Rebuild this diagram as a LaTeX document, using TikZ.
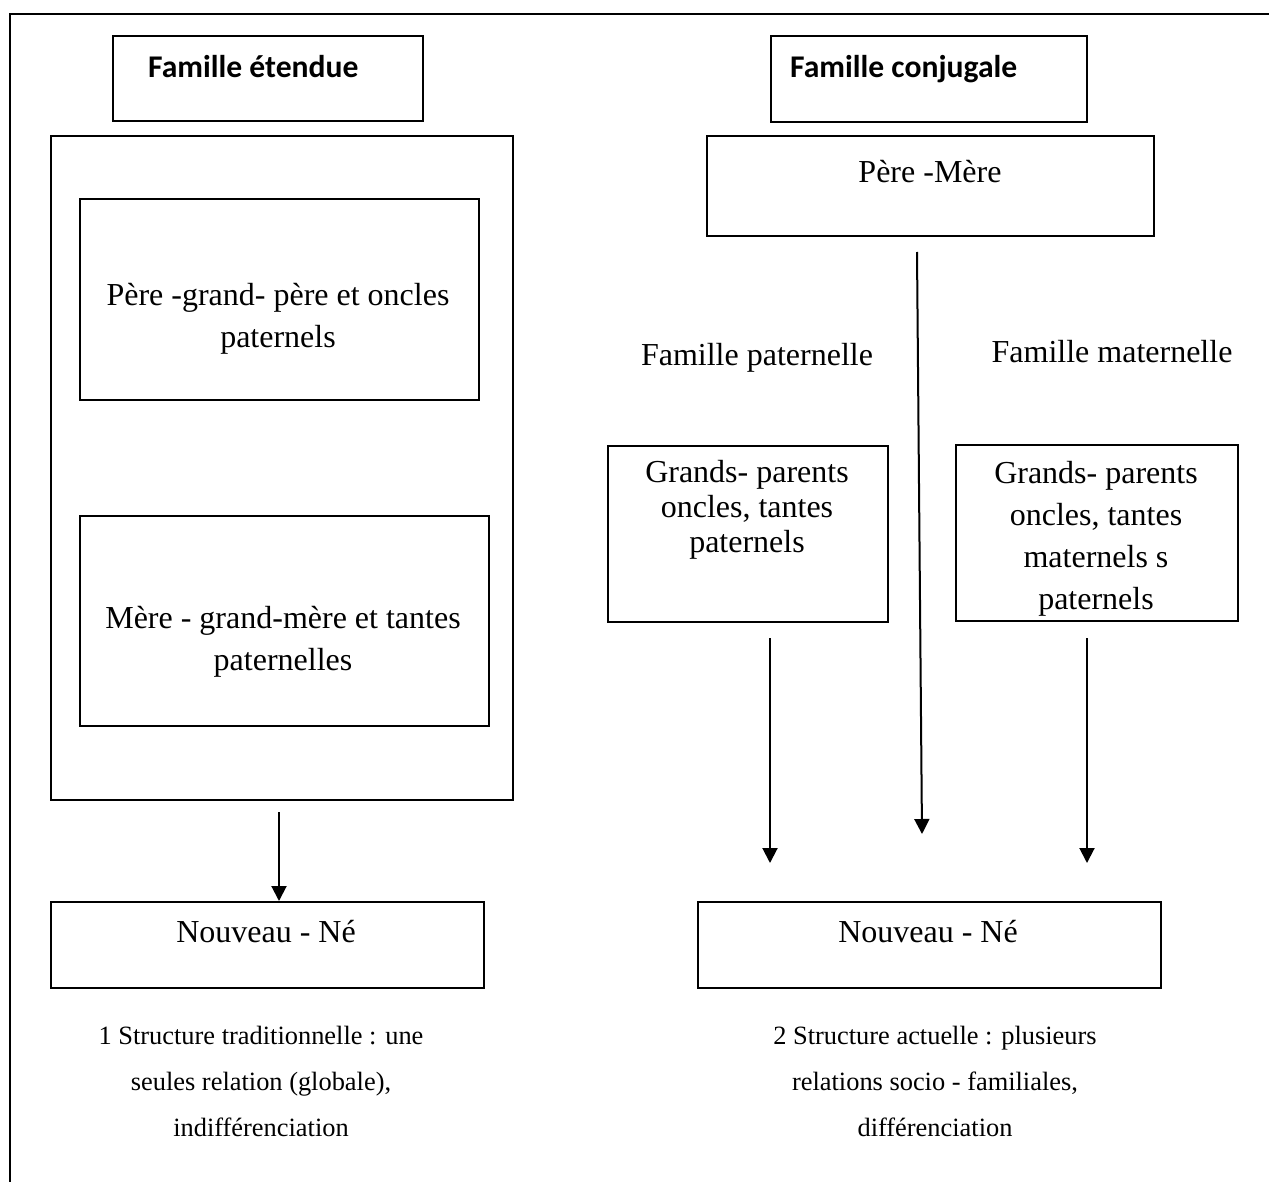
\documentclass[tikz,border=0pt]{standalone}
\usepackage{fontspec}
\setmainfont{Liberation Serif}
\newfontfamily\calibrifont{Carlito}
\usetikzlibrary{arrows.meta}
\tikzset{
  box/.style={draw, line width=2pt, rectangle, inner sep=0pt, anchor=north west},
  main/.style={font=\fontsize{32}{42}\selectfont, align=center, anchor=base, inner sep=0pt},
  tight/.style={font=\fontsize{32}{35}\selectfont, align=center, anchor=base, inner sep=0pt},
  head/.style={font=\calibrifont\bfseries\fontsize{31.6}{38}\selectfont, anchor=base west, inner sep=0pt},
  capt/.style={font=\fontsize{26.4}{46}\selectfont, align=center, anchor=base, inner sep=0pt},
  arr/.style={line width=2pt, -{Triangle[width=15pt,length=15pt]}}
}
\begin{document}
\begin{tikzpicture}[x=1pt,y=-1pt]
\useasboundingbox (0,0) rectangle (1269,1182);
% outer frame (right and bottom sides fall outside the picture)
\draw[line width=2.5pt] (10,1182) -- (10,14) -- (1269,14);

% left column
\node[box, minimum width=310pt, minimum height=85pt] (hetendue) at (112,35) {};
\node[head] (tetendue) at (148,78) {Famille étendue};
\node[box, minimum width=462pt, minimum height=664pt] (cont) at (50,135) {};
\node[box, minimum width=399pt, minimum height=201pt] (pere) at (79,198) {};
\node[main] (tpere) at (278,348) {Père -grand- père et oncles\\paternels};
\node[box, minimum width=409pt, minimum height=210pt] (mere) at (79,515) {};
\node[main] (tmere) at (283,670) {Mère - grand-mère et tantes\\paternelles};
\node[box, minimum width=433pt, minimum height=86pt] (nn1) at (50,901) {};
\node[main] (tnn1) at (266,942) {Nouveau - Né};
\node[capt] (cap1) at (261,1136) {1 Structure traditionnelle : une\\seules relation (globale),\\indifférenciation};
\coordinate (a1s) at (279,812);
\coordinate (a1e) at (279,901);
\draw[arr] (a1s) -- (a1e);

% right column
\node[box, minimum width=316pt, minimum height=86pt] (hconj) at (770,35) {};
\node[head] (tconj) at (790,78) {Famille conjugale};
\node[box, minimum width=447pt, minimum height=100pt] (pm) at (706,135) {};
\node[main] (tpm) at (930,183) {Père -Mère};
\node[main] (tpat) at (757,365) {Famille paternelle};
\node[main] (tmat) at (1112,362) {Famille maternelle};
\node[box, minimum width=280pt, minimum height=176pt] (pat) at (607,445) {};
\node[tight] (tpatb) at (747,552) {Grands- parents\\oncles, tantes\\paternels};
\node[box, minimum width=282pt, minimum height=176pt] (mat) at (955,444) {};
\begin{scope}
\clip (955,444) rectangle (1237,619);
\node[main] (tmatb) at (1096,609) {Grands- parents\\oncles, tantes\\maternels s\\paternels};
\end{scope}
\node[box, minimum width=463pt, minimum height=86pt] (nn2) at (697,901) {};
\node[main] (tnn2) at (928,942) {Nouveau - Né};
\node[capt] (cap2) at (935,1136) {2 Structure actuelle : plusieurs\\relations socio - familiales,\\différenciation};

\coordinate (a2s) at (770,638);
\coordinate (a2e) at (770,863);
\coordinate (a3s) at (917,252);
\coordinate (a3e) at (922,834);
\coordinate (a4s) at (1087,638);
\coordinate (a4e) at (1087,863);
\draw[arr] (a2s) -- (a2e);
\draw[arr] (a3s) -- (a3e);
\draw[arr] (a4s) -- (a4e);
\end{tikzpicture}
\end{document}
